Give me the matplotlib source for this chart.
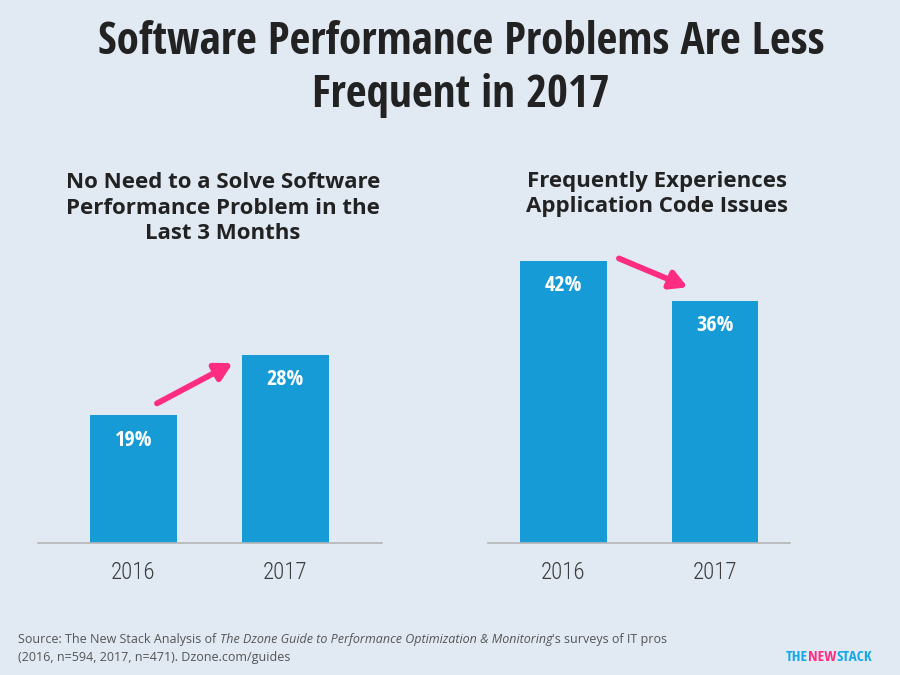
import matplotlib
matplotlib.use("Agg")
import matplotlib.pyplot as plt
from matplotlib import font_manager
from matplotlib.font_manager import FontProperties

# data
years = ["2016", "2017"]
no_need = [19, 28]
code_issues = [42, 36]
left_title = "No Need to a Solve Software\nPerformance Problem in the\nLast 3 Months"
right_title = "Frequently Experiences\nApplication Code Issues"
main_title = "Software Performance Problems Are Less\nFrequent in 2017"

# condensed family for the title / numbers
names = {f.name for f in font_manager.fontManager.ttflist}
cond = "DejaVu Sans"
for cand in ["Open Sans Condensed", "Roboto Condensed", "Liberation Sans Narrow"]:
    if cand in names:
        cond = cand
        break
light = cond
for cand in ["Open Sans Condensed Light", "Roboto Condensed Light", "Roboto Condensed"]:
    if cand in names:
        light = cand
        break

fp_bold = FontProperties(family=cond, weight="bold")
fp_light = FontProperties(family=light, weight="light")

bg = "#e1e9f3"
bar_c = "#179bd6"
pink = "#ff2d82"

fig = plt.figure(figsize=(9, 6.75), dpi=100, facecolor=bg)

def panel(rect, xlim, vals):
    ax = fig.add_axes(rect)
    ax.set_facecolor(bg)
    bars = ax.bar([0, 1], vals, width=0.574, color=bar_c)
    ax.set_xlim(*xlim)
    ax.set_ylim(0, 45)
    for s in ["top", "right", "left"]:
        ax.spines[s].set_visible(False)
    ax.spines["bottom"].set_color("#b5b5b5")
    ax.spines["bottom"].set_linewidth(1.2)
    ax.set_yticks([])
    ax.set_xticks([0, 1])
    ax.set_xticklabels(years, fontproperties=fp_light, fontsize=16.5, color="#3c3c3c")
    ax.tick_params(axis="x", length=0, pad=13)
    for b, v in zip(bars, vals):
        ax.text(b.get_x() + b.get_width() / 2, v - 2.1, f"{v}%", ha="center", va="top",
                color="white", fontproperties=fp_bold, fontsize=16)
    return ax

axl = panel([38 / 900, 132 / 675, 344 / 900, 302 / 675], (-0.63, 1.64), no_need)
axr = panel([488 / 900, 132 / 675, 302 / 900, 302 / 675], (-0.498, 1.495), code_issues)

arrow = dict(arrowstyle="-|>,head_length=1.0,head_width=0.55", color=pink, lw=4.2,
             shrinkA=0, shrinkB=0)
axl.annotate("", xy=(0.655, no_need[1] - 1.2), xytext=(0.155, no_need[0] + 1.8), arrowprops=arrow)
axr.annotate("", xy=(0.82, code_issues[1] + 2.1), xytext=(0.366, code_issues[0] + 0.4), arrowprops=arrow)

fig.text(461 / 900, 1 - 69 / 675, main_title, ha="center", va="center", fontsize=32.5,
         fontproperties=fp_bold, color="#222222", linespacing=1.25)
fig.text(223 / 900, 1 - 208 / 675, left_title, ha="center", va="center", fontsize=16,
         fontweight="bold", family="Open Sans", color="#222222", linespacing=1.3)
fig.text(657 / 900, 1 - 194 / 675, right_title, ha="center", va="center", fontsize=16,
         fontweight="bold", family="Open Sans", color="#222222", linespacing=1.3)

# source note with italic guide title
src = dict(fontsize=9, color="#555555", family="Open Sans")
t1 = fig.text(18 / 900, 1 - 640 / 675, "Source: The New Stack Analysis of ", va="center", **src)
t2 = plt.annotate("The Dzone Guide to Performance Optimization & Monitoring", xycoords=t1, xy=(1, 0.5),
                  va="center", style="italic", annotation_clip=False, **src)
plt.annotate("'s surveys of IT pros", xycoords=t2, xy=(1, 0.5), va="center",
             annotation_clip=False, **src)
fig.text(18 / 900, 1 - 658 / 675, "(2016, n=594, 2017, n=471). Dzone.com/guides", va="center", **src)

# logo
l1 = fig.text(786 / 900, 1 - 657 / 675, "THE", va="center", color="#14a9e6",
              fontproperties=fp_bold, fontsize=11)
l2 = plt.annotate("NEW", xycoords=l1, xy=(1, 0.5), va="center", color=pink,
                  annotation_clip=False, fontproperties=fp_bold, fontsize=11)
plt.annotate("STACK", xycoords=l2, xy=(1, 0.5), va="center", color="#14a9e6",
             annotation_clip=False, fontproperties=fp_bold, fontsize=11)

fig.savefig("out.png", dpi=100, facecolor=bg)
